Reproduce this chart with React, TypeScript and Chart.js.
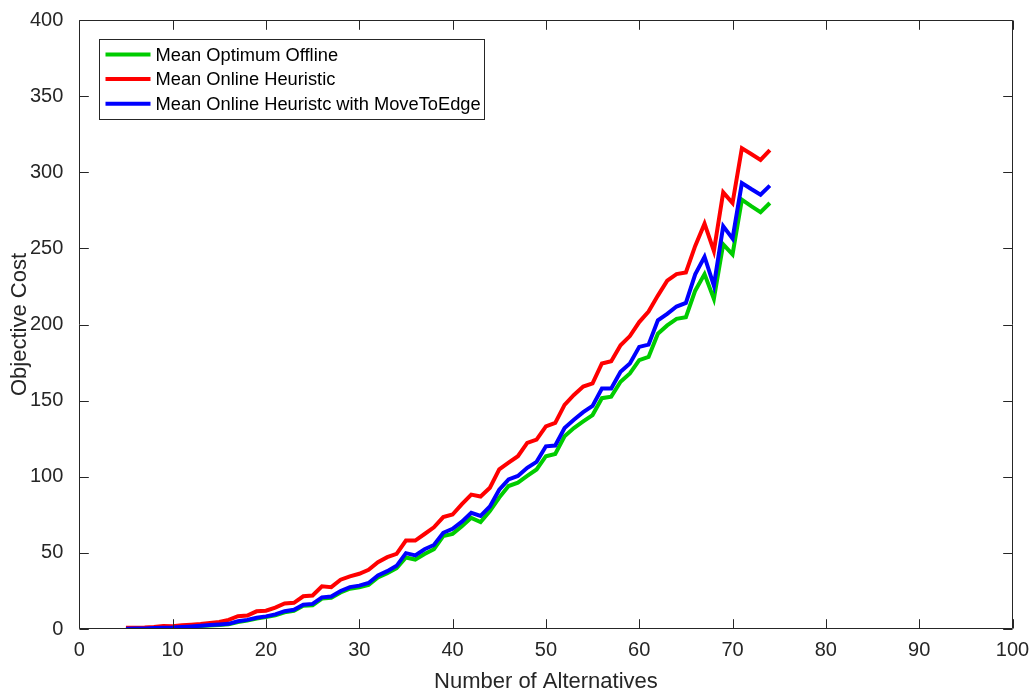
import React, { useEffect, useRef } from "react";
import { Chart, registerables } from "chart.js";

Chart.register(...registerables);

// Number of alternatives (x values)
const alternatives = [
  5, 6, 7, 8, 9, 10, 11, 12, 13, 14, 15, 16, 17, 18, 19, 20, 21, 22, 23, 24,
  25, 26, 27, 28, 29, 30, 31, 32, 33, 34, 35, 36, 37, 38, 39, 40, 41, 42, 43, 44,
  45, 46, 47, 48, 49, 50, 51, 52, 53, 54, 55, 56, 57, 58, 59, 60, 61, 62, 63, 64,
  65, 66, 67, 68, 69, 70, 71, 72, 73, 74,
];

// Mean objective cost of the optimum offline solution
const optimumOffline = [
  0.1, 0.2, 0.3, 0.5, 0.7, 0.8, 1.1, 1.5, 1.9, 2.3, 2.7, 3.1, 4.6, 5.5, 6.9, 7.8, 9.0, 11.0, 11.9, 15.2,
  15.6, 20.0, 20.5, 24.0, 26.5, 27.4, 29.0, 33.8, 36.6, 40.0, 47.0, 45.6, 49.2, 52.4, 61.0, 62.5, 67.5, 73.0, 70.3, 77.5,
  86.3, 93.9, 96.1, 100.5, 104.8, 113.5, 115.0, 126.6, 132.0, 136.3, 140.5, 151.6, 152.6, 162.4, 167.9, 176.6, 178.7, 194.0, 199.4, 203.7,
  204.8, 222.2, 233.1, 216.8, 252.7, 246.1, 282.0, 277.7, 273.8, 279.8,
];

// Mean objective cost of the online heuristic
const onlineHeuristic = [
  0.8, 0.9, 1.0, 1.3, 2.0, 1.8, 2.4, 2.8, 3.3, 4.0, 4.6, 6.0, 8.4, 8.8, 11.6, 12.0, 14.0, 16.8, 17.2, 21.5,
  22.0, 28.0, 27.5, 32.4, 34.6, 36.3, 38.9, 43.9, 47.2, 49.4, 58.1, 58.1, 62.4, 66.8, 73.5, 75.2, 82.0, 88.3, 87.0, 92.8,
  104.8, 109.2, 113.5, 122.2, 124.4, 133.1, 135.3, 147.2, 153.7, 159.2, 161.3, 174.4, 175.9, 186.3, 192.4, 201.6, 208.5, 219.0, 228.8, 233.1,
  234.2, 251.6, 266.2, 248.3, 286.8, 279.8, 315.7, 312.0, 308.1, 314.6,
];

// Mean objective cost of the online heuristic with MoveToEdge
const onlineMoveToEdge = [
  0.2, 0.3, 0.4, 0.6, 0.9, 1.0, 1.3, 1.7, 2.1, 2.6, 3.0, 3.4, 5.1, 6.0, 7.4, 8.3, 9.6, 11.7, 12.6, 16.0,
  16.5, 20.8, 21.3, 25.0, 27.5, 28.5, 30.2, 35.2, 38.0, 41.5, 49.8, 48.3, 52.4, 55.2, 63.2, 65.8, 70.5, 76.3, 74.3, 80.5,
  91.5, 98.3, 100.5, 105.9, 109.8, 120.0, 120.5, 132.0, 137.4, 142.4, 146.5, 158.0, 158.0, 169.0, 174.4, 185.3, 186.8, 202.7, 207.0, 211.8,
  214.2, 233.0, 244.5, 225.5, 264.6, 256.4, 292.9, 289.0, 285.3, 291.2,
];

const xTickValues = [0, 10, 20, 30, 40, 50, 60, 70, 80, 90, 100];
const yTickValues = [0, 50, 100, 150, 200, 250, 300, 350, 400];

const seriesNames = [
  "Mean Optimum Offline",
  "Mean Online Heuristic",
  "Mean Online Heuristc with MoveToEdge",
];
const seriesColors = ["#00cc00", "#ff0000", "#0000ff"];

const AXIS_COLOR = "#262626";
const FONT_FAMILY = "'Liberation Sans', Arial, Helvetica, sans-serif";
const TICK_LEN = 9.3;

// Boxed axes with inward tick marks on all four sides, plus the inset legend
const boxAxesPlugin = {
  id: "boxAxes",
  afterDatasetsDraw(chart: any) {
    const { ctx, chartArea, scales } = chart;
    const { left, right, top, bottom } = chartArea;
    const xs = scales.x;
    const ys = scales.y;
    ctx.save();
    ctx.strokeStyle = AXIS_COLOR;
    ctx.lineWidth = 1;
    ctx.lineCap = "butt";

    const L = Math.round(left) + 0.5;
    const R = Math.round(right) - 0.5;
    const T = Math.round(top) + 0.5;
    const B = Math.round(bottom) - 0.5;

    ctx.beginPath();
    ctx.rect(L, T, R - L, B - T);
    for (const v of xTickValues) {
      const px = Math.round(xs.getPixelForValue(v)) + 0.5;
      ctx.moveTo(px, B);
      ctx.lineTo(px, B - TICK_LEN);
      ctx.moveTo(px, T);
      ctx.lineTo(px, T + TICK_LEN);
    }
    for (const v of yTickValues) {
      const py = Math.round(ys.getPixelForValue(v)) + 0.5;
      ctx.moveTo(L, py);
      ctx.lineTo(L + TICK_LEN, py);
      ctx.moveTo(R, py);
      ctx.lineTo(R - TICK_LEN, py);
    }
    ctx.stroke();

    // legend box
    const bx = L + 20;
    const by = T + 19;
    const bw = 385;
    const bh = 80;
    ctx.fillStyle = "#ffffff";
    ctx.fillRect(bx, by, bw, bh);
    ctx.strokeRect(bx, by, bw, bh);

    ctx.font = `18.3px ${FONT_FAMILY}`;
    ctx.textBaseline = "middle";
    ctx.textAlign = "left";
    seriesNames.forEach((name, i) => {
      const ry = by + 15 + i * 24.6;
      ctx.strokeStyle = seriesColors[i];
      ctx.lineWidth = 4;
      ctx.beginPath();
      ctx.moveTo(bx + 6, ry);
      ctx.lineTo(bx + 51, ry);
      ctx.stroke();
      ctx.fillStyle = "#000000";
      ctx.fillText(name, bx + 56, ry + 1);
    });
    ctx.restore();
  },
};

export default function App() {
  const canvasRef = useRef<HTMLCanvasElement | null>(null);

  useEffect(() => {
    const canvas = canvasRef.current;
    if (!canvas) return;

    const seriesValues = [optimumOffline, onlineHeuristic, onlineMoveToEdge];
    // draw order: blue on top, then red, then green
    const drawOrder = [2, 1, 0];

    const chart = new Chart(canvas, {
      type: "line",
      data: {
        datasets: seriesValues.map((vals, i) => ({
          label: seriesNames[i],
          data: alternatives.map((a, j) => ({ x: a, y: vals[j] })),
          borderColor: seriesColors[i],
          backgroundColor: seriesColors[i],
          borderWidth: 4,
          pointRadius: 0,
          tension: 0,
          fill: false,
          order: drawOrder[i],
        })),
      },
      options: {
        responsive: false,
        animation: false,
        layout: { padding: { top: 15.7, right: 20.5, left: 0, bottom: 0 } },
        plugins: {
          legend: { display: false },
          tooltip: { enabled: false },
        },
        scales: {
          x: {
            type: "linear",
            min: 0,
            max: 100,
            afterFit(scale: any) {
              scale.height = 67;
            },
            grid: { display: false },
            border: { display: false },
            ticks: {
              stepSize: 10,
              padding: 1,
              maxRotation: 0,
              color: AXIS_COLOR,
              font: { family: FONT_FAMILY, size: 20 },
            },
            title: {
              display: true,
              text: "Number of Alternatives",
              color: AXIS_COLOR,
              font: { family: FONT_FAMILY, size: 22 },
              padding: { top: 0, bottom: 1 },
            },
          },
          y: {
            type: "linear",
            min: 0,
            max: 400,
            afterFit(scale: any) {
              scale.width = 79.3;
            },
            grid: { display: false },
            border: { display: false },
            ticks: {
              stepSize: 50,
              padding: 8,
              color: AXIS_COLOR,
              font: { family: FONT_FAMILY, size: 20 },
            },
            title: {
              display: true,
              text: "Objective Cost",
              color: AXIS_COLOR,
              font: { family: FONT_FAMILY, size: 22 },
              padding: { top: 7, bottom: 0 },
            },
          },
        },
      },
      plugins: [boxAxesPlugin],
    });

    return () => chart.destroy();
  }, []);

  return (
    <div style={{ position: "absolute", left: 0, top: 0, width: 1033, height: 696, background: "#ffffff" }}>
      <canvas ref={canvasRef} width={1033} height={696} />
    </div>
  );
}
